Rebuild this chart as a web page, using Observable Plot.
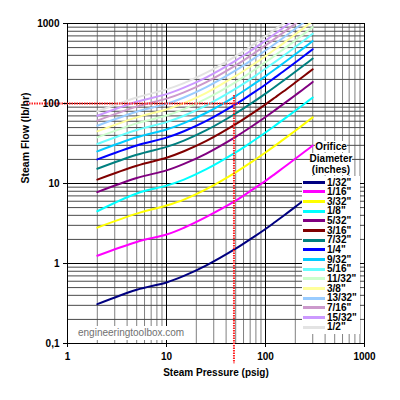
<!DOCTYPE html>
<html>
<head>
<meta charset="utf-8">
<script src="https://cdn.jsdelivr.net/npm/d3@7"></script>
<script src="https://cdn.jsdelivr.net/npm/@observablehq/plot@0.6"></script>
<style>
  html, body { margin: 0; padding: 0; background: #fff; }
  #wrap { position: relative; width: 400px; height: 400px; font-family: "Liberation Sans", Arial, sans-serif; }
  #legend { position: absolute; left: 302px; top: 141px; width: 58px; font-weight: bold; font-size: 10px; color: #000; }
  #legend .title { text-align: center; line-height: 11.5px; }
  #legend .title span { background: #fff; }
  #legend .box { background: #fff; padding-top: 2px; height: 156px; margin-top: 0px; }
  #legend .item { display: flex; align-items: center; height: 9.67px; line-height: 9.67px; }
  #legend .sw { width: 22px; height: 3px; margin-left: 1px; margin-right: 2px; }
  #wm { position: absolute; left: 78px; top: 326px; width: 106px; height: 14px; background: #fff; color: #707070; font-size: 10px; line-height: 14px; text-align: center; font-family: "Liberation Sans", Arial, sans-serif; }
</style>
</head>
<body>
<div id="wrap"></div>
<script>
// Steam pressure (psig) at which flows are tabulated
const pressures = [2, 5, 10, 15, 25, 50, 75, 100, 125, 150, 200, 250, 300];

// Orifice diameters (legend labels) and colours
const diameters = ['1/32"', '1/16"', '3/32"', '1/8"', '5/32"', '3/16"', '7/32"', '1/4"',
                   '9/32"', '5/16"', '11/32"', '3/8"', '13/32"', '7/16"', '15/32"', '1/2"'];
const colors = ["#000080", "#FF00FF", "#FFFF00", "#00FFFF", "#800080", "#800000", "#008080", "#0000FF",
                "#00CCFF", "#66FFFF", "#CCFFCC", "#FFFF99", "#99CCFF", "#CC99CC", "#CC99FF", "#E3E3E3"];

// Steam flow (lb/hr) per orifice diameter
const flow_1_32  = [0.31, 0.47, 0.58, 0.70, 0.94, 1.53, 2.12, 2.7, 3.30, 3.90, 5.10, 6.30, 7.40];
const flow_1_16  = [1.25, 1.86, 2.3, 2.8, 3.8, 6.1, 8.5, 10.8, 13.2, 15.6, 20.4, 25.1, 29.8];
const flow_3_32  = [2.81, 4.20, 5.3, 6.3, 8.45, 13.8, 19.1, 24.4, 29.7, 35.1, 45.7, 56.4, 67.1];
const flow_1_8   = [4.5, 7.5, 9.4, 11.2, 15.0, 24.5, 34.0, 43.4, 52.9, 62.4, 81.3, 100, 119];
const flow_5_32  = [7.8, 11.7, 14.6, 17.6, 23.5, 38.3, 53.1, 67.9, 82.7, 97.4, 127, 156, 186];
const flow_3_16  = [11.2, 16.7, 21.0, 25.3, 33.8, 55.1, 76.4, 97.7, 119, 140, 183, 226, 268];
const flow_7_32  = [15.3, 22.9, 28.7, 34.4, 46.0, 75.0, 104, 133, 162, 191, 249, 307, 365];
const flow_1_4   = [20.0, 29.9, 37.4, 45.0, 60.1, 98, 136, 173, 212, 249, 325, 401, 477];
const flow_9_32  = [25.2, 37.8, 47.4, 56.9, 76.1, 124, 172, 220, 268, 316, 412, 507, 603];
const flow_5_16  = [31.2, 46.6, 58.5, 70.3, 94.0, 153, 212, 272, 331, 390, 508, 627, 745];
const flow_11_32 = [37.7, 56.4, 70.7, 85.1, 114, 185, 257, 329, 400, 472, 615, 758, 901];
const flow_3_8   = [44.9, 67.1, 84.2, 101, 135, 221, 306, 391, 476, 561, 732, 902, 1073];
const flow_13_32 = [52.7, 78.8, 98.8, 119, 159, 259, 359, 459, 559, 659, 859, 1059, 1259];
const flow_7_16  = [61.1, 91.4, 115, 138, 184, 300, 416, 532, 648, 764, 996, 1228, 1460];
const flow_15_32 = [70.2, 105, 131, 158, 211, 344, 478, 611, 744, 877, 1144, 1410, 1676];
const flow_1_2   = [79.8, 119, 150, 180, 241, 392, 544, 695, 847, 998, 1302, 1604, 1907];

const flows = [flow_1_32, flow_1_16, flow_3_32, flow_1_8, flow_5_32, flow_3_16, flow_7_32, flow_1_4,
               flow_9_32, flow_5_16, flow_11_32, flow_3_8, flow_13_32, flow_7_16, flow_15_32, flow_1_2];

// Axis ticks / grid values
const xMajor = [1, 10, 100, 1000];
const xMinor = [2, 3, 4, 5, 6, 7, 8, 9, 20, 30, 40, 50, 60, 70, 80, 90, 200, 300, 400, 500, 600, 700, 800, 900];
const yMajor = [0.1, 1, 10, 100, 1000];
const yMinor = [0.2, 0.3, 0.4, 0.5, 0.6, 0.7, 0.8, 0.9, 2, 3, 4, 5, 6, 7, 8, 9,
                20, 30, 40, 50, 60, 70, 80, 90, 200, 300, 400, 500, 600, 700, 800, 900];
const yTickLabels = ["0,1", "1", "10", "100", "1000"];
const xTickLabels = ["1", "10", "100", "1000"];

// Red reference lines
const refFlow = [100];
const refPressure = [48];

const rows = [];
diameters.forEach((d, i) => pressures.forEach((p, j) => rows.push({d, p, f: flows[i][j]})));

const red = "#FF2020";
const chart = Plot.plot({
  width: 400, height: 400,
  marginLeft: 67, marginRight: 36, marginTop: 23, marginBottom: 57,
  x: {type: "log", domain: [1, 1000]},
  y: {type: "log", domain: [0.1, 1000]},
  color: {domain: diameters, range: colors},
  style: {fontFamily: '"Liberation Sans", Arial, sans-serif', fontSize: "10px", fontWeight: "bold", background: "#fff", color: "#000"},
  marks: [
    Plot.ruleX(xMinor, {stroke: "#808080", strokeOpacity: 1}),
    Plot.ruleY(yMinor, {stroke: "#4a4a4a", strokeOpacity: 1}),
    Plot.ruleX(xMajor, {stroke: "#000"}),
    Plot.ruleY(yMajor, {stroke: "#000"}),
    Plot.line(rows, {x: "p", y: "f", z: "d", stroke: "d", strokeWidth: 2, curve: "catmull-rom", clip: true}),
    Plot.ruleY(refFlow, {x1: 0.39, x2: 56, stroke: red, strokeWidth: 2, strokeDasharray: "1.5,1"}),
    Plot.ruleX(refPressure, {y1: 126, y2: 0.056, stroke: red, strokeWidth: 2, strokeDasharray: "1.5,1"}),
    Plot.axisX({ticks: xMajor, tickFormat: (d, i) => xTickLabels[xMajor.indexOf(d)], tickSize: 4, tickPadding: 5, label: null, fontWeight: "bold"}),
    Plot.axisY({ticks: yMajor, tickFormat: (d) => yTickLabels[yMajor.indexOf(d)], tickSize: 4, tickPadding: 4, label: null, fontWeight: "bold"}),
    Plot.text(["Steam Pressure (psig)"], {frameAnchor: "bottom", dy: 32, fontWeight: "bold", fontSize: 10}),
    Plot.text(["Steam Flow (lb/hr)"], {frameAnchor: "left", dx: -42, rotate: -90, fontWeight: "bold", fontSize: 10.5})
  ]
});

const wrap = document.getElementById("wrap");
wrap.appendChild(chart);

const wm = document.createElement("div");
wm.id = "wm";
wm.textContent = "engineeringtoolbox.com";
wrap.appendChild(wm);

const legend = document.createElement("div");
legend.id = "legend";
let html = '<div class="title"><span>Orifice</span><br><span>Diameter</span><br><span>(inches)</span></div><div class="box">';
diameters.forEach((d, i) => {
  html += `<div class="item"><div class="sw" style="background:${colors[i]}"></div><span>${d.replace('"', '&quot;')}</span></div>`;
});
html += '</div>';
legend.innerHTML = html;
wrap.appendChild(legend);
</script>
</body>
</html>
